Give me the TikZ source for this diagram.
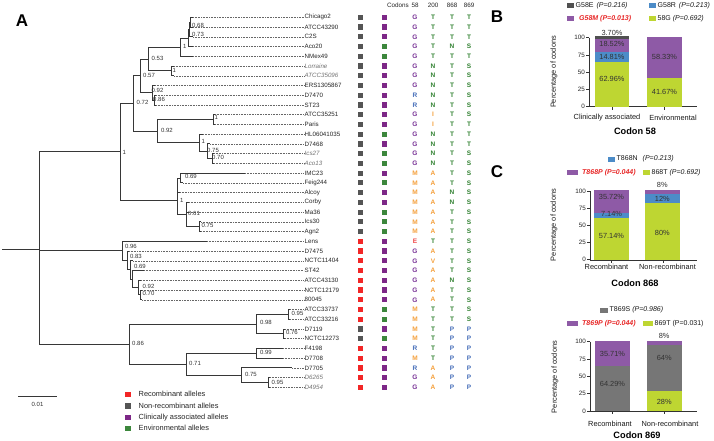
\documentclass[tikz,border=0pt]{standalone}
\usepackage{fontspec}
\setmainfont{Liberation Sans}
\usetikzlibrary{calc}
\definecolor{treeline}{RGB}{55,55,55}
\definecolor{sqr}{RGB}{242,38,38}
\definecolor{sqg}{RGB}{85,85,85}
\definecolor{sqp}{RGB}{125,40,135}
\definecolor{sqe}{RGB}{60,135,60}
\definecolor{cG}{RGB}{120,50,150}
\definecolor{cT}{RGB}{50,130,50}
\definecolor{cN}{RGB}{50,130,50}
\definecolor{cS}{RGB}{50,130,50}
\definecolor{cR}{RGB}{70,110,185}
\definecolor{cP}{RGB}{70,110,185}
\definecolor{cM}{RGB}{245,160,60}
\definecolor{cA}{RGB}{245,160,60}
\definecolor{cI}{RGB}{245,160,60}
\definecolor{cV}{RGB}{245,160,60}
\definecolor{cE}{RGB}{240,70,70}
\definecolor{bpurple}{RGB}{142,90,166}
\definecolor{bgreen}{RGB}{190,214,50}
\definecolor{bblue}{RGB}{76,140,200}
\definecolor{bgrey}{RGB}{118,118,118}
\definecolor{bdark}{RGB}{80,80,80}
\definecolor{pred}{RGB}{232,40,40}
\newcommand\itl{\itshape\color{black!55}}
\begin{document}
\begin{tikzpicture}[x=1pt,y=-1pt,
  branch/.style={draw=treeline, line width=0.9pt},
  dotline/.style={draw=black!60, line width=0.45pt, dash pattern=on 0.5pt off 1.1pt},
  leaf/.style={anchor=west, inner sep=0.5pt, font=\fontsize{6.2}{7}\selectfont, text=black!85},
  supl/.style={anchor=west, inner sep=0pt, font=\fontsize{6}{7}\selectfont, text=black!80},
  sq/.style={minimum size=5.2pt, inner sep=0pt, draw=none},
  cod/.style={font=\fontsize{6.5}{7}\selectfont\bfseries, inner sep=0pt},
  hdr/.style={font=\fontsize{6.3}{7}\selectfont, inner sep=0pt, text=black!85},
  axis/.style={draw=black!80, line width=0.6pt},
  tick/.style={font=\fontsize{6.3}{7}\selectfont, inner sep=0pt, text=black!85},
  ctxt/.style={font=\fontsize{7.4}{8}\selectfont, inner sep=0pt, text=black!90},
  lgt/.style={font=\fontsize{7}{8}\selectfont, inner sep=0pt, text=black!90, anchor=west},
  pct/.style={font=\fontsize{7.4}{8}\selectfont, inner sep=0pt, text=black!80},
  ttl/.style={font=\fontsize{9.2}{10}\selectfont\bfseries, inner sep=0pt},
  panel/.style={font=\fontsize{17}{18}\selectfont\bfseries, inner sep=0pt},
  leglab/.style={anchor=west, inner sep=0pt, font=\fontsize{7.4}{8}\selectfont, text=black!85}
]
\path[use as bounding box, fill=white] (0,0) rectangle (714,441);

% ---------------- Panel A ----------------
\node[panel] (pA) at (22,21) {A};

% header
\node[hdr, anchor=east] (hcod) at (409,5) {Codons};
\node[hdr] (h58) at (415,5) {58};
\node[hdr] (h200) at (433,5) {200};
\node[hdr] (h868) at (452,5) {868};
\node[hdr] (h869) at (469,5) {869};

% leaves
\foreach \i/\nm/\tx/\ca/\cb/\ka/\kb/\kc/\kd in {
0/Chicago2/193/sqg/sqp/G/T/T/T,
1/ATCC43290/193/sqg/sqp/G/T/T/T,
2/C2S/193/sqg/sqp/G/T/T/T,
3/Aco20/193/sqg/sqe/G/T/N/S,
4/NMex49/193/sqg/sqe/G/T/T/T,
5/{\itl Lorraine}/174/sqg/sqp/G/N/T/S,
6/{\itl ATCC35096}/174/sqg/sqp/G/N/T/S,
7/ERS1305867/155/sqg/sqp/G/N/T/S,
8/D7470/156/sqg/sqp/R/N/T/S,
9/ST23/156/sqg/sqp/R/N/T/S,
10/ATCC35251/215/sqg/sqp/G/I/T/S,
11/Paris/215/sqg/sqp/G/I/T/T,
12/HL06041035/203/sqg/sqe/G/N/T/T,
13/D7468/210/sqg/sqp/G/N/T/T,
14/{\itl Ics27}/214/sqg/sqe/G/N/T/S,
15/{\itl Aco13}/214/sqg/sqe/G/N/T/S,
16/IMC23/245/sqg/sqp/M/A/T/S,
17/Feig244/183/sqg/sqe/M/A/T/S,
18/Alcoy/180/sqg/sqp/M/A/N/S,
19/Corby/189/sqg/sqp/M/A/N/S,
20/Ma36/189/sqg/sqe/M/A/T/S,
21/Ics30/201/sqg/sqe/M/A/T/S,
22/Agn2/201/sqg/sqe/M/A/T/S,
23/Lens/207/sqr/sqp/E/T/T/S,
24/D7475/129/sqr/sqp/G/A/T/S,
25/NCTC11404/133/sqr/sqp/G/V/T/S,
26/ST42/144/sqr/sqp/G/A/T/S,
27/ATCC43130/141/sqr/sqp/G/A/N/S,
28/NCTC12179/142/sqr/sqp/G/A/T/S,
29/80045/142/sqr/sqp/G/A/T/S,
30/ATCC33737/290/sqr/sqe/M/T/T/S,
31/ATCC33216/290/sqr/sqe/M/T/T/S,
32/D7119/285/sqg/sqp/M/T/P/P,
33/NCTC12273/285/sqg/sqe/M/T/P/P,
34/F4198/283/sqr/sqp/R/T/P/P,
35/D7708/283/sqr/sqp/M/T/P/P,
36/D7705/292/sqr/sqp/R/A/P/P,
37/{\itl D6265}/270/sqr/sqp/G/A/P/P,
38/{\itl D4954}/270/sqr/sqp/G/A/P/P}{
  \pgfmathsetmacro\yy{17.3+9.74*\i}
  \coordinate (l\i) at (\tx,\yy);
  \node[leaf] (t\i) at (304,\yy) {\nm};
  \draw[dotline] (l\i) -- (t\i.west);
  \node[sq, fill=\ca] (s\i) at (360.5,\yy) {};
  \node[sq, fill=\cb] (e\i) at (384.5,\yy) {};
  \node[cod, text=c\ka] (ca\i) at (415,\yy) {\ka};
  \node[cod, text=c\kb] (cb\i) at (433,\yy) {\kb};
  \node[cod, text=c\kc] (cc\i) at (452,\yy) {\kc};
  \node[cod, text=c\kd] (cd\i) at (469,\yy) {\kd};
}

% internal nodes
\coordinate (stub) at (2,249);
\coordinate (root) at (39,249);
\coordinate (n120) at (120,151.75);
\coordinate (n133) at (133,103.5);
\coordinate (n4) at (140,75.9);
\coordinate (n5) at (148,59.0);
\coordinate (nX) at (180,47.13);
\coordinate (nY) at (188.5,38.0);
\coordinate (nZ) at (189,29.48);
\coordinate (nW) at (190,22.17);
\coordinate (nLor) at (171,70.87);
\coordinate (n152) at (152,92.79);
\coordinate (n154) at (154,100.09);
\coordinate (n157) at (157,131.1);
\coordinate (n213) at (213,119.57);
\coordinate (n199) at (199,142.7);
\coordinate (n207) at (207,151.2);
\coordinate (n212) at (212,158.53);
\coordinate (n177) at (177,200);
\coordinate (n180) at (180,178.0);
\coordinate (n186) at (186,214.5);
\coordinate (n199b) at (199,226.7);
\coordinate (n122) at (122,250.9);
\coordinate (n127) at (127,260.5);
\coordinate (n131) at (130,269.9);
\coordinate (n132) at (132,279.1);
\coordinate (n139) at (138,287.6);
\coordinate (n140) at (140,294.9);
\coordinate (n129) at (129,344.2);
\coordinate (n256) at (256,324.1);
\coordinate (n288) at (288,314.4);
\coordinate (n283) at (283,333.9);
\coordinate (n186b) at (186,364.3);
\coordinate (n256b) at (256,353.3);
\coordinate (n241) at (241,375.3);
\coordinate (n268) at (268,382.6);

\draw[branch] (stub) -- (root);
\foreach \p/\c in {root/n120, root/n122, root/n129,
  n120/n133, n120/n177, n133/n4, n133/n157, n4/n5, n4/n152,
  n5/nX, n5/nLor, nX/nY, nX/l4, nY/nZ, nY/l3, nZ/nW, nZ/l2, nW/l0, nW/l1,
  nLor/l5, nLor/l6, n152/l7, n152/n154, n154/l8, n154/l9,
  n157/n213, n157/n199, n213/l10, n213/l11, n199/l12, n199/n207,
  n207/l13, n207/n212, n212/l14, n212/l15,
  n177/n180, n177/l18, n177/n186, n180/l16, n180/l17,
  n186/l19, n186/l20, n186/n199b, n199b/l21, n199b/l22,
  n122/l23, n122/n127, n127/l24, n127/n131, n131/l25, n131/n132,
  n132/l26, n132/n139, n139/l27, n139/n140, n140/l28, n140/l29,
  n129/n256, n129/n186b, n256/n288, n256/n283, n288/l30, n288/l31,
  n283/l32, n283/l33, n186b/n256b, n186b/n241, n256b/l34, n256b/l35,
  n241/l36, n241/n268, n268/l37, n268/l38}{
  \draw[branch] (\p) |- (\c);
}

% support values
\foreach \x/\y/\t [count=\k] in {
192/25/0.68, 192/34.3/0.73, 183/46.7/1, 151.5/58.3/0.53, 172.5/70/1,
143/75/0.57, 151.5/90.7/0.92, 153/99/0.86, 136.5/102.3/0.72,
214.5/117.3/1, 160.8/130/0.92, 201.3/141.7/1, 207/150/0.75, 212/157.3/0.70,
122.3/152/1, 184.8/176.7/0.69, 179.8/200/1, 188/213/0.61, 201.5/225/0.75,
124.8/246/0.96, 129.8/256.7/0.83, 133.8/266.3/0.69, 142.5/286/0.92, 142.5/293.3/0.70,
132/343/0.86, 189/363/0.71, 259.8/322.7/0.98, 291.5/313.3/0.95, 285.8/332.3/0.76,
259.8/352.3/0.99, 244.8/374/0.75, 271.5/382.3/0.95}{
  \node[supl] (sv\k) at (\x,\y) {\t};
}

% scale bar
\coordinate (sbl) at (18,396);
\coordinate (sbr) at (57,396);
\draw[line width=0.9pt, draw=treeline] (sbl) -- (sbr);
\node[supl, anchor=center] (sbt) at (37.5,404.5) {0.01};

% legend
\foreach \y/\c/\t [count=\k] in {394.3/sqr/Recombinant alleles, 406/sqg/Non-recombinant alleles,
  417.3/sqp/Clinically associated alleles, 428.3/sqe/Environmental alleles}{
  \node[sq, fill=\c, minimum size=5.6pt] (lg\k) at (128,\y) {};
  \node[leglab] (lt\k) at (138.5,\y) {\t};
}

% ---------------- Panel B ----------------
\node[panel] (pB) at (497,17) {B};
\fill[bdark] (567,3.5) rectangle (574,8.5);
\node[lgt] (bl1) at (575.5,6) {G58E\hspace{3pt}\textit{(P=0.216)}};
\fill[bblue] (649,3.5) rectangle (656,8.5);
\node[lgt] (bl2) at (657.5,6) {G58R\hspace{3pt}\textit{(P=0.213)}};
\fill[bpurple] (567,16) rectangle (574,21);
\node[lgt, text=pred] (bl3) at (579,18.3) {\bfseries\itshape G58M (P=0.013)};
\fill[bgreen] (649,16) rectangle (656,21);
\node[lgt] (bl4) at (657.5,18.3) {58G \textit{(P=0.692)}};

\draw[axis] (589,37.7) -- (589,106.7) -- (697,106.7);
\foreach \v [count=\k] in {0,25,50,75,100}{
  \pgfmathsetmacro\ty{106.7-0.69*\v}
  \draw[axis] (586,\ty) -- (589,\ty);
  \node[tick, anchor=east] (bt\k) at (585,\ty) {\v};
}
\draw[axis] (612,106.7) -- (612,109.7);
\draw[axis] (664,106.7) -- (664,109.7);
\fill[bgreen] (595,106.7) rectangle (629,61.7);
\fill[bblue] (595,61.7) rectangle (629,52.3);
\fill[bpurple] (595,52.3) rectangle (629,39);
\fill[bdark] (595,39) rectangle (629,36);
\fill[bgreen] (647,106.7) rectangle (682,77.7);
\fill[bpurple] (647,77.7) rectangle (682,36.7);
\node[pct] (bp1) at (612,79) {62.96\%};
\node[pct] (bp2) at (612,57.3) {14.81\%};
\node[pct] (bp3) at (612,44.3) {18.52\%};
\node[pct] (bp4) at (612,32.7) {3.70\%};
\node[pct] (bp5) at (664.5,57.3) {58.33\%};
\node[pct] (bp6) at (664.5,91.7) {41.67\%};
\node[ctxt] (bx1) at (607,118) {Clinically associated};
\node[ctxt] (bx2) at (673,118) {Environmental};
\node[ttl] (bT) at (635,131) {Codon 58};
\node[ctxt, rotate=90] (bY) at (554,72) {Percentage of codons};

% ---------------- Panel C (868) ----------------
\node[panel] (pC) at (497,172) {C};
\fill[bblue] (608,156.5) rectangle (615,161.5);
\node[lgt] (cl1) at (616.5,159) {T868N\hspace{5pt}\textit{(P=0.213)}};
\fill[bpurple] (567,170) rectangle (578,175);
\node[lgt, text=pred] (cl2) at (582,172.3) {\bfseries\itshape T868P (P=0.044)};
\fill[bgreen] (643,170) rectangle (650,175);
\node[lgt] (cl3) at (651.5,172.3) {868T \textit{(P=0.692)}};

\draw[axis] (590,191) -- (590,260) -- (697,260);
\foreach \v [count=\k] in {0,25,50,75,100}{
  \pgfmathsetmacro\ty{259.6-0.686*\v}
  \draw[axis] (587,\ty) -- (590,\ty);
  \node[tick, anchor=east] (ct\k) at (586,\ty) {\v};
}
\draw[axis] (611.7,260) -- (611.7,263);
\draw[axis] (663.3,260) -- (663.3,263);
\fill[bgreen] (593.5,259.5) rectangle (629.3,217.7);
\fill[bblue] (593.5,217.7) rectangle (629.3,213.3);
\fill[bpurple] (593.5,213.3) rectangle (629.3,189.5);
\fill[bgreen] (644.5,259.5) rectangle (680,202.7);
\fill[bblue] (644.5,202.7) rectangle (680,194);
\fill[bpurple] (644.5,194) rectangle (680,189.5);
\node[pct] (cp1) at (611.5,197.3) {35.72\%};
\node[pct] (cp2) at (611.5,214.3) {7.14\%};
\node[pct] (cp3) at (611.5,236) {57.14\%};
\node[pct] (cp4) at (662.3,232.7) {80\%};
\node[pct] (cp5) at (662.3,199) {12\%};
\node[pct] (cp6) at (662.3,185) {8\%};
\node[ctxt] (cx1) at (606.5,267.3) {Recombinant};
\node[ctxt] (cx2) at (667.5,267.3) {Non-recombinant};
\node[ttl] (cT) at (635,283.3) {Codon 868};
\node[ctxt, rotate=90] (cY) at (554,225) {Percentage of codons};

% ---------------- Panel C (869) ----------------
\fill[bgrey] (600,307.5) rectangle (608,312.5);
\node[lgt] (dl1) at (609.5,310) {T869S \textit{(P=0.986)}};
\fill[bpurple] (567,321) rectangle (578,326);
\node[lgt, text=pred] (dl2) at (582,323.3) {\bfseries\itshape T869P (P=0.044)};
\fill[bgreen] (643,321) rectangle (653,326);
\node[lgt] (dl3) at (654.5,323.3) {869T (P=0.031)};

\draw[axis] (590,341.7) -- (590,411) -- (697,411);
\foreach \v [count=\k] in {0,25,50,75,100}{
  \pgfmathsetmacro\ty{411-0.693*\v}
  \draw[axis] (587,\ty) -- (590,\ty);
  \node[tick, anchor=east] (dt\k) at (586,\ty) {\v};
}
\draw[axis] (612.3,411) -- (612.3,414);
\draw[axis] (664.3,411) -- (664.3,414);
\fill[bgrey] (595,410.5) rectangle (630,365.7);
\fill[bpurple] (595,365.7) rectangle (630,341);
\fill[bgreen] (646.7,410.5) rectangle (681.7,390.7);
\fill[bgrey] (646.7,390.7) rectangle (681.7,345);
\fill[bpurple] (646.7,345) rectangle (681.7,341);
\node[pct] (dp1) at (612.5,354) {35.71\%};
\node[pct] (dp2) at (612.5,384.3) {64.29\%};
\node[pct] (dp3) at (664.2,358.3) {64\%};
\node[pct] (dp4) at (664.2,401.7) {28\%};
\node[pct] (dp5) at (664.2,335.7) {8\%};
\node[ctxt] (dx1) at (610,424) {Recombinant};
\node[ctxt] (dx2) at (670,424) {Non-recombinant};
\node[ttl] (dT) at (637,435) {Codon 869};
\node[ctxt, rotate=90] (dY) at (555,377) {Percentage of codons};
\end{tikzpicture}
\end{document}
